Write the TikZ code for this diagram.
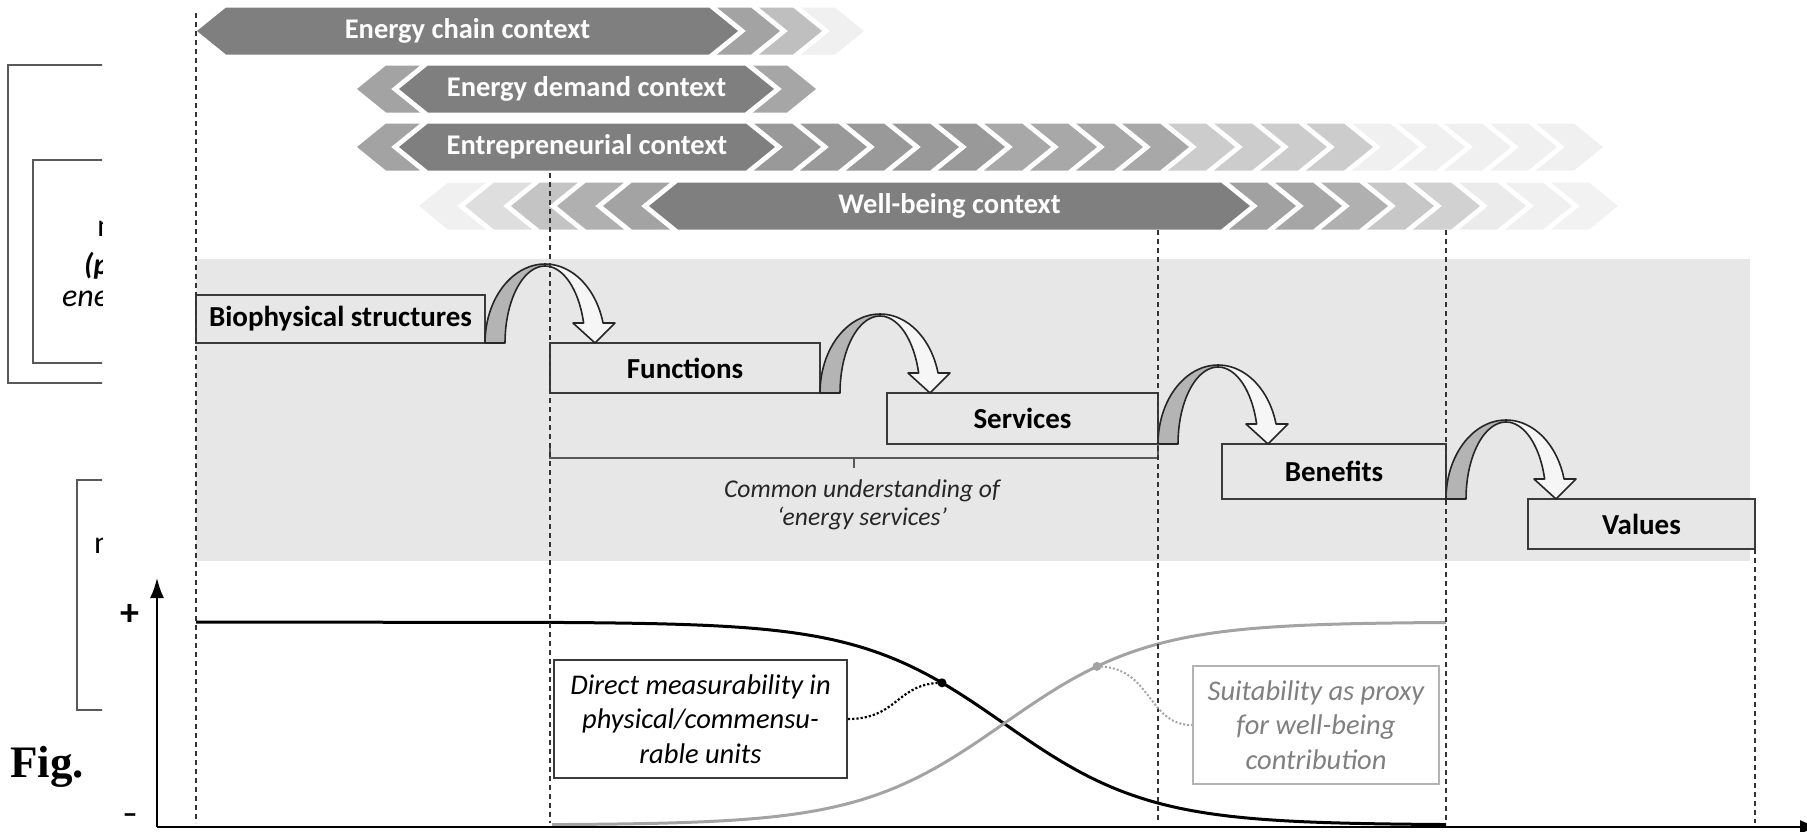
\documentclass[tikz,border=0pt]{standalone}
\usepackage{fontspec}
\setmainfont{Carlito}
\newfontfamily\pagefont{Liberation Serif}
\usetikzlibrary{arrows.meta,positioning,calc}

\definecolor{band}{HTML}{E7E7E7}
\definecolor{ctxdark}{HTML}{7F7F7F}
\definecolor{boxline}{HTML}{3A3A3A}
\definecolor{hopgray}{HTML}{B4B4B4}
\definecolor{hopwhite}{HTML}{F6F6F6}
\definecolor{proxygray}{HTML}{A3A3A3}

\tikzset{
  stage/.style={draw=boxline, line width=2pt, fill=band, inner sep=0pt, outer sep=0pt, font=\fontsize{29}{34}\selectfont\bfseries},
  ctxlabel/.style={text=white, inner sep=0pt, font=\fontsize{28.5}{34}\selectfont\bfseries},
  remark/.style={draw=boxline, line width=2pt, fill=white, align=center, inner sep=0pt, font=\fontsize{28.5}{34.5}\selectfont\itshape},
  guide/.style={draw=black!80, line width=1.5pt, dash pattern=on 5pt off 4pt},
  hopline/.style={draw=black!85, line width=1.6pt, line join=round},
  oldbox/.style={draw=black!65, line width=2.2pt},
  fragment/.style={anchor=base west, inner sep=0pt, font=\fontsize{32}{32}\selectfont},
  sign/.style={inner sep=0pt, font=\fontsize{38}{38}\selectfont\bfseries},
}

% context bar with its label, and the chevrons before / after it
\newcommand{\ctxbar}[5]{%
  \fill[ctxdark] (#2,#4-23.5) -- (#3,#4-23.5) -- (#3+29,#4) -- (#3,#4+23.5) -- (#2,#4+23.5) -- (#2-29,#4) -- cycle;
  \node (#1) [ctxlabel] at ({(#2+#3)/2},#4) {#5};}
\newcommand{\chevright}[4]{%
  \fill[#4] (#1,#2-23.5) -- ++(#3,0) -- ++(29,23.5) -- ++(-29,23.5) -- ++(-#3,0) -- ++(29,-23.5) -- cycle;}
\newcommand{\chevleft}[4]{%
  \fill[#4] (#1,#2) -- ++(29,-23.5) -- ++(#3,0) -- ++(-29,23.5) -- ++(29,23.5) -- ++(-#3,0) -- cycle;}
% curved hop arrow starting at the lower right corner of a stage
\newcommand{\hop}[1]{%
  \begin{scope}[shift={(#1.south east)}]
    \filldraw[hopline, fill=hopgray] plot[domain=180:90, samples=24] ({60+60*cos(\x)},{-79*sin(\x)}) -- plot[domain=90:180, samples=24] ({60+40*cos(\x)},{-77*sin(\x)}) -- cycle;
    \filldraw[hopline, fill=hopwhite] plot[domain=90:14.7, samples=24] ({60+60*cos(\x)},{-79*sin(\x)}) -- (130,-20) -- (110,0) -- (88,-20) -- plot[domain=15.1:90, samples=24] ({60+40*cos(\x)},{-77*sin(\x)}) -- cycle;
  \end{scope}}

\begin{document}
\begin{tikzpicture}[x=1pt, y=-1pt, >=Latex]
\useasboundingbox (0,0) rectangle (1807,831);

\begin{scope}
\clip (0,0) rectangle (102,831);
\draw[oldbox] (110,65) -| (8,383) -- (110,383);
\draw[oldbox] (110,160) -| (33,363) -- (110,363);
\draw[oldbox] (110,480) -| (77,710) -- (110,710);
\node (frag1) [fragment] at (97,236) {m};
\node (frag2) [fragment, font=\fontsize{30}{30}\selectfont\bfseries\itshape] at (84,274) {(p};
\node (frag3) [fragment, font=\fontsize{32}{32}\selectfont\itshape] at (62,306) {energy};
\node (frag4) [fragment] at (94,553) {n};
\node (fig) [fragment, font=\fontsize{45}{45}\selectfont\pagefont\bfseries] at (10,777) {Fig.};
\end{scope}

\fill[band] (196,259) rectangle (1750,561);

\ctxbar{chain}{226}{709}{31}{Energy chain context}
\foreach \c [count=\i from 0] in {black!36,black!25,black!6}
  \chevright{717+42*\i}{31}{34}{\c};

\ctxbar{demand}{428}{745}{89}{Energy demand context}
\chevleft{357}{89}{34}{black!36}
\chevright{753}{89}{34}{black!35}

\ctxbar{entre}{428}{746}{147}{Entrepreneurial context}
\chevleft{357}{147}{34}{black!36}
\foreach \c [count=\i from 0] in {black!40,black!40,black!40,black!40,black!40,black!34,black!34,black!34,black!34,black!20,black!20,black!20,black!20,black!6,black!6,black!6,black!6,black!6}
  \chevright{754+46*\i}{147}{38}{\c};

\ctxbar{well}{678}{1221}{206}{Well-being context}
\foreach \c [count=\i from 0] in {black!6,black!13,black!23,black!31,black!36}
  \chevleft{419+46*\i}{206}{38}{\c};
\foreach \c [count=\i from 0] in {black!37,black!35,black!31,black!22,black!18,black!8,black!6,black!5}
  \chevright{1229+46*\i}{206}{38}{\c};

\node (bio) [stage, minimum width=289, minimum height=48] at (340.5,319) {Biophysical structures};
\node (fun) [stage, minimum width=270, minimum height=50, below right=0 and 65 of bio.south east] {Functions};
\node (serv) [stage, minimum width=271, minimum height=51, below right=0 and 67 of fun.south east] {Services};
\node (ben) [stage, minimum width=224, minimum height=55, below right=0 and 64 of serv.south east] {Benefits};
\node (val) [stage, minimum width=227, minimum height=50, below right=0 and 82 of ben.south east] {Values};
\hop{bio}
\hop{fun}
\hop{serv}
\hop{ben}

\coordinate (brL) at (fun.south west |- serv.south);
\draw[draw=black!65, line width=1.5pt] (brL) -- ++(0,14) -| (serv.south east);
\draw[draw=black!65, line width=1.5pt] ($(brL)!0.5!(serv.south east)$) ++(0,14) -- ++(0,10);
\node (common) [align=center, text=black!85, font=\fontsize{25.6}{28.5}\selectfont\itshape] at (862,505) {Common understanding of\\‘energy services’};

\coordinate (org) at (157,827);
\draw[line width=3pt] (196,622) -- plot[domain=560:1446, samples=120] (\x,{622+203/(1+exp(-(\x-1004)/73))});
\draw[proxygray, line width=3pt] plot[domain=552:1446, samples=120] (\x,{825-203/(1+exp(-(\x-1004)/73))});
\coordinate (dotB) at (942,{622+203/(1+exp(62/73))});
\coordinate (dotG) at (1097,{825-203/(1+exp(-93/73))});

\foreach \n/\t in {bio.south west/13, fun.south west/173, serv.south east/230, ben.south east/230, val.south east/549}
  \draw[guide] (\n |- 0,\t) -- (\n |- 0,823);

\draw[line width=2pt, -{Latex[length=20pt, width=14pt]}] (org) -- (157,578);
\draw[line width=2pt, -{Latex[length=20pt, width=14pt]}] (org) -- (1820,827);
\node (plus) [sign] at (130,615) {+};
\node (minus) [sign, font=\fontsize{30}{30}\selectfont\bfseries, anchor=base] at (130,823) {–};

\node (direct) [remark, minimum width=293, minimum height=118] at (700.5,719) {Direct measurability in\\physical/commensu-\\rable units};
\node (suit) [remark, draw=black!30, text=black!50, minimum width=246, minimum height=118] at (1316,725) {Suitability as proxy\\for well-being\\contribution};
\draw[line width=2.2pt, dotted] (direct.east) .. controls +(50,0) and +(-45,0) .. (dotB);
\draw[proxygray, line width=2pt, dotted] (dotG) .. controls +(55,0) and +(-45,0) .. (suit.west);
\fill (dotB) circle (4.5);
\fill[proxygray] (dotG) circle (4.5);
\end{tikzpicture}
\end{document}
